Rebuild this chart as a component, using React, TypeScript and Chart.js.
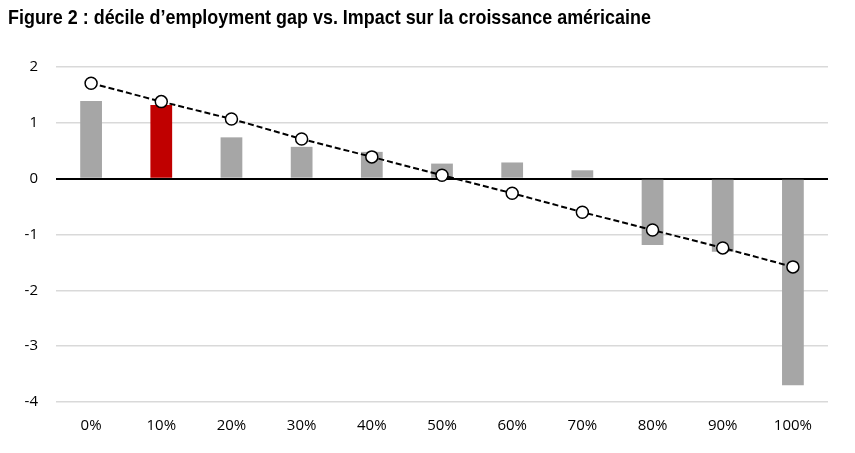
import React, { useEffect, useRef } from "react";
import { Chart, registerables } from "chart.js";

Chart.register(...registerables);

const TITLE = "Figure 2 : décile d’employment gap vs. Impact sur la croissance américaine";
const categories = ["0%", "10%", "20%", "30%", "40%", "50%", "60%", "70%", "80%", "90%", "100%"];
const barValues = [1.39, 1.32, 0.74, 0.57, 0.48, 0.27, 0.29, 0.15, -1.19, -1.31, -3.7];
const lineValues = [1.71, 1.38, 1.07, 0.71, 0.39, 0.06, -0.26, -0.6, -0.92, -1.24, -1.58];
const highlightCategory = "10%";
const yTicks = [-4, -3, -2, -1, 0, 1, 2];

export default function App() {
  const ref = useRef<HTMLCanvasElement | null>(null);
  useEffect(() => {
    if (!ref.current) return;
    const chart = new Chart(ref.current, {
      type: "bar",
      data: {
        labels: categories,
        datasets: [
          {
            type: "line",
            data: lineValues,
            borderColor: "#000000",
            borderWidth: 2,
            borderDash: [6, 3],
            pointRadius: 6,
            pointBackgroundColor: "#ffffff",
            pointBorderColor: "#000000",
            pointBorderWidth: 1.5,
            fill: false,
            tension: 0,
            order: 0,
          } as any,
          {
            type: "bar",
            data: barValues,
            backgroundColor: categories.map((c) => (c === highlightCategory ? "#C00000" : "#A6A6A6")),
            barPercentage: 0.31,
            categoryPercentage: 1,
            order: 1,
          },
        ],
      },
      options: {
        animation: false,
        responsive: true,
        maintainAspectRatio: false,
        layout: { padding: { left: 0, right: 27, top: 67, bottom: 3 } },
        plugins: {
          legend: { display: false },
          tooltip: { enabled: false },
          title: { display: false },
        },
        scales: {
          x: {
            grid: { display: false, drawTicks: false },
            border: { display: false },
            ticks: {
              color: "#000000",
              padding: 15,
              font: { family: "'Open Sans', sans-serif", size: 15 },
            },
          },
          y: {
            min: -4,
            max: 2,
            afterFit: (scale: any) => {
              scale.width = 56;
            },
            afterBuildTicks: (scale: any) => {
              scale.ticks = yTicks.map((v) => ({ value: v }));
            },
            border: { display: false },
            grid: {
              color: (ctx: any) => (ctx.tick && ctx.tick.value === 0 ? "#000000" : "#D9D9D9"),
              lineWidth: (ctx: any) => (ctx.tick && ctx.tick.value === 0 ? 2 : 1.5),
              drawTicks: false,
            },
            ticks: {
              color: "#000000",
              padding: 18,
              font: { family: "'Open Sans', sans-serif", size: 15 },
            },
          },
        },
      },
    });
    return () => chart.destroy();
  }, []);
  return (
    <div style={{ position: "absolute", left: 0, top: 0, width: 855, height: 453, background: "#ffffff" }}>
      <canvas ref={ref} />
      <div
        style={{
          position: "absolute",
          left: 8,
          top: 4.5,
          whiteSpace: "nowrap",
          fontFamily: "'Liberation Sans', Arial, sans-serif",
          fontWeight: "bold",
          fontSize: 21,
          color: "#000000",
          transform: "scaleX(0.854)",
          transformOrigin: "left top",
        }}
      >
        {TITLE}
      </div>
    </div>
  );
}
